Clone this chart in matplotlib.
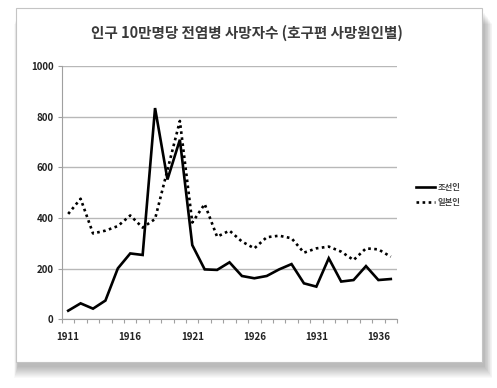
import numpy as np
import matplotlib
matplotlib.use("Agg")
import matplotlib.pyplot as plt
from matplotlib.patches import Rectangle

plt.rcParams['font.family'] = ['Noto Sans CJK KR', 'DejaVu Sans']

# ------------------------------------------------------
# data: deaths from epidemics per 100k population
# ------------------------------------------------------
years = list(range(1911, 1938))
korean = [34, 63, 42, 74, 201, 260, 254, 834, 552, 709, 293, 197, 195, 225,
          171, 162, 171, 197, 218, 142, 129, 241, 149, 155, 210, 155, 159]
japanese = [416, 476, 339, 350, 368, 410, 362, 396, 590, 783, 382, 455, 326, 350,
            307, 280, 324, 330, 320, 263, 280, 287, 267, 234, 280, 276, 247]
series_names = ["조선인", "일본인"]
title = "인구 10만명당 전염병 사망자수 (호구편 사망원인별)"
xtick_years = [1911, 1916, 1921, 1926, 1931, 1936]
yticks = [0, 200, 400, 600, 800, 1000]

W, H = 497, 388
fig = plt.figure(figsize=(W / 100, H / 100), dpi=100)
fig.patch.set_facecolor("white")

# soft drop shadow (down/right) + white card frame, in pixel units
L, T, R, B = 16, 8, 482, 362
for k in range(12, 0, -1):
    grow = k
    fig.patches.append(Rectangle(((L + 2 - grow * 0.3) / W, 1 - (B + 4 + grow) / H),
                                 (R - L + grow * 1.0) / W, (B - T) / H,
                                 transform=fig.transFigure, facecolor="black",
                                 alpha=0.022, edgecolor="none", zorder=0))
fig.patches.append(Rectangle((L / W, 1 - B / H), (R - L) / W, (B - T) / H,
                             transform=fig.transFigure, facecolor="white",
                             edgecolor="#c4c4c4", lw=0.8, zorder=1))

ax = fig.add_axes([62 / W, 1 - 319.3 / H, 335 / W, (319.3 - 66) / H])
ax.set_facecolor("none")
ax.set_zorder(2)

ax.plot(years, korean, color="black", lw=1.9, label=series_names[0],
        solid_joinstyle="miter")
ax.plot(years, japanese, color="black", lw=1.9, linestyle=(0, (1, 1.3)),
        label=series_names[1])

ax.set_xlim(1910.5, 1937.5)
ax.set_ylim(0, 1000)
ax.set_yticks(yticks)
ax.set_xticks(xtick_years)
ax.set_xticks(np.arange(1910.5, 1938, 1), minor=True)
ax.tick_params(axis="x", which="major", length=0, pad=9, labelsize=7)
ax.tick_params(axis="x", which="minor", length=3, color="#a0a0a0", width=0.8)
ax.tick_params(axis="y", length=3, color="#a0a0a0", width=0.8, labelsize=7, pad=3)
for lab in ax.get_xticklabels() + ax.get_yticklabels():
    lab.set_fontweight("bold")
    lab.set_color("#222222")

ax.grid(axis="y", color="#b8b8b8", lw=1.0)
ax.set_axisbelow(True)
for s in ["top", "right"]:
    ax.spines[s].set_visible(False)
ax.spines["left"].set_color("#a0a0a0")
ax.spines["bottom"].set_color("#a0a0a0")

fig.text(247 / W, 1 - 33 / H, title, ha="center", va="center", fontsize=10.5,
         fontweight="bold", color="#3a3a3a")

leg = ax.legend(loc="center left", bbox_to_anchor=(1.035, 0.49), frameon=False,
                fontsize=6, handlelength=2.3, handletextpad=0.3, labelspacing=0.7)
for t in leg.get_texts():
    t.set_fontweight("bold")
    t.set_color("#444444")

fig.savefig("out.png", dpi=100)
